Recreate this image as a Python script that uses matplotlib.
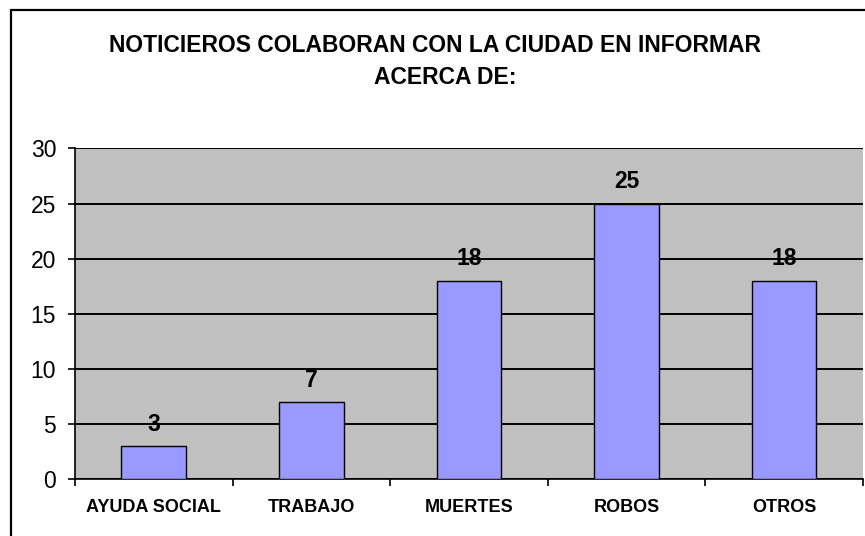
import matplotlib
matplotlib.use("Agg")
import matplotlib.pyplot as plt
from matplotlib.patches import Rectangle

categories = ["AYUDA SOCIAL", "TRABAJO", "MUERTES", "ROBOS", "OTROS"]
values = [3, 7, 18, 25, 18]
y_ticks = [0, 5, 10, 15, 20, 25, 30]

plt.rcParams['font.family'] = ['Liberation Sans', 'DejaVu Sans']

fig = plt.figure(figsize=(8.65, 5.36), dpi=100)
ax = fig.add_axes([0.0867, 0.1063, 0.9107, 0.6167])

# outer chart border (runs off the right/bottom edge like the source)
fig.patches.append(Rectangle((10.5 / 865, -0.05), 1.2, 1.05 - 10.5 / 536,
                             transform=fig.transFigure, fill=False,
                             edgecolor='black', linewidth=1.6, zorder=0))

ax.set_facecolor('#C0C0C0')
x = range(len(categories))
bars = ax.bar(x, values, width=0.41, color='#9999FF', edgecolor='black',
              linewidth=1.0, zorder=3)

for b, v in zip(bars, values):
    ax.annotate(str(v), (b.get_x() + b.get_width() / 2, v),
                xytext=(0, 11), textcoords='offset points',
                ha='center', va='baseline', fontsize=16.5, fontweight='bold')

ax.set_xlim(-0.5, len(categories) - 0.5)
ax.set_ylim(0, 30)
ax.set_yticks(y_ticks)
ax.set_yticklabels([str(t) for t in y_ticks], fontsize=16.5)
ax.yaxis.grid(True, color='black', linewidth=1.4, zorder=1)
ax.set_axisbelow(True)

ax.set_xticks([i - 0.5 for i in range(len(categories) + 1)], minor=False)
ax.set_xticklabels([])
ax.set_xticks(list(x), minor=True)
ax.set_xticklabels(categories, minor=True, fontsize=13, fontweight='bold')
ax.tick_params(axis='x', which='minor', length=0, pad=14.5)
ax.tick_params(axis='x', which='major', length=5, width=1.2, direction='out')
ax.tick_params(axis='y', length=5, width=1.2, direction='out', pad=8.5)

for s in ['top', 'right']:
    ax.spines[s].set_visible(False)
ax.spines['left'].set_linewidth(1.2)
ax.spines['bottom'].set_linewidth(1.2)

fig.text(435 / 865, 1 - 45.5 / 536, "NOTICIEROS COLABORAN CON LA CIUDAD EN INFORMAR",
         ha='center', va='center', fontsize=16.5, fontweight='bold')
fig.text(445 / 865, 1 - 78 / 536, "ACERCA DE:",
         ha='center', va='center', fontsize=16.5, fontweight='bold')

fig.savefig("out.png", dpi=100)
